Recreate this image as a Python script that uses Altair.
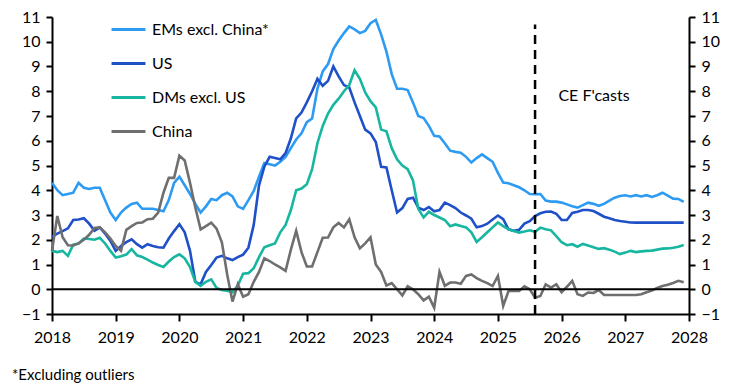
import altair as alt
import pandas as pd

start_year = 2018
series_names = ["EMs excl. China*", "US", "DMs excl. US", "China"]
colors = ["#2E9BF2", "#1F50C8", "#17B6A0", "#6F6F6F"]
year_ticks = list(range(2018, 2029))
y_ticks = list(range(-1, 12))
forecast_start = 2025 + 7 / 12
annotation = "CE F'casts"
annotation_x = [2025.95]
annotation_y = [7.8]
footnote = "*Excluding outliers"

ems = [4.3, 4.0, 3.8, 3.85, 3.9, 4.3, 4.1, 4.05, 4.1, 4.1, 3.6, 3.1,
       2.8, 3.1, 3.3, 3.45, 3.5, 3.25, 3.25, 3.25, 3.2, 3.15, 3.6, 4.3,
       4.55, 4.2, 3.85, 3.45, 3.1, 3.35, 3.65, 3.6, 3.8, 3.9, 3.75, 3.35,
       3.25, 3.6, 3.97, 4.55, 5.1, 5.05, 5.0, 5.15, 5.35, 5.7, 6.05, 6.3,
       6.75, 6.9, 8.1, 8.8, 9.1, 9.7, 10.05, 10.35, 10.62, 10.5, 10.35, 10.44,
       10.75, 10.88, 10.3, 9.6, 8.69, 8.1, 8.1, 8.05, 7.55, 7.0, 6.92, 6.6,
       6.2, 6.17, 5.9, 5.6, 5.55, 5.52, 5.35, 5.12, 5.3, 5.45, 5.3, 5.15,
       4.7, 4.31, 4.28, 4.2, 4.12, 4.0, 3.85, 3.84, 3.85, 3.58, 3.54, 3.54,
       3.5, 3.43, 3.35, 3.3, 3.4, 3.5, 3.45, 3.37, 3.45, 3.58, 3.7, 3.77,
       3.8, 3.75, 3.8, 3.75, 3.8, 3.73, 3.8, 3.9, 3.78, 3.66, 3.65, 3.53]

us = [2.13, 2.25, 2.35, 2.46, 2.8, 2.82, 2.87, 2.65, 2.36, 2.5, 2.25, 1.95,
      1.55, 1.75, 1.9, 2.02, 1.82, 1.68, 1.82, 1.75, 1.7, 1.68, 2.05, 2.35,
      2.63, 2.3, 1.55, 0.3, 0.2, 0.7, 0.98, 1.28, 1.35, 1.25, 1.18, 1.3,
      1.4, 1.68, 2.6, 4.2, 4.95, 5.35, 5.3, 5.25, 5.5, 6.1, 6.9, 7.14,
      7.55, 8.0, 8.5, 8.22, 8.42, 9.0, 8.6, 8.25, 8.15, 7.55, 7.0, 6.45,
      6.3, 5.95, 4.95, 4.92, 4.0, 3.1, 3.28, 3.65, 3.7, 3.3, 3.2, 3.32,
      3.15, 3.2, 3.5, 3.4, 3.28, 3.1, 2.98, 2.85, 2.5, 2.55, 2.65, 2.82,
      2.98, 2.83, 2.42, 2.36, 2.4, 2.65, 2.75, 2.96, 3.07, 3.13, 3.14, 3.05,
      2.8, 2.8, 3.08, 3.13, 3.2, 3.2, 3.16, 3.05, 2.93, 2.87, 2.8, 2.76,
      2.73, 2.7, 2.69, 2.69, 2.69, 2.69, 2.69, 2.69, 2.69, 2.69, 2.69, 2.69]

dms = [1.55, 1.5, 1.55, 1.35, 1.8, 1.85, 2.05, 2.03, 2.0, 2.08, 1.85, 1.55,
       1.28, 1.33, 1.4, 1.62, 1.37, 1.3, 1.2, 1.08, 0.98, 0.9, 1.12, 1.3,
       1.41, 1.25, 0.9, 0.3, 0.14, 0.3, 0.4, 0.05, -0.03, -0.06, -0.12, 0.15,
       0.63, 0.65, 0.85, 1.3, 1.7, 1.78, 1.85, 2.3, 2.6, 3.2, 4.0, 4.07,
       4.24, 4.85, 5.9, 6.6, 7.1, 7.45, 7.7, 8.0, 8.25, 8.85, 8.5, 7.95,
       7.6, 7.35, 6.45, 6.38, 5.7, 5.25, 5.0, 4.85, 4.4, 3.25, 2.9, 3.13,
       3.0, 2.9, 2.8, 2.55, 2.62, 2.56, 2.5, 2.3, 1.91, 2.1, 2.3, 2.5,
       2.7, 2.55, 2.42, 2.35, 2.29, 2.33, 2.38, 2.32, 2.49, 2.42, 2.38, 2.15,
       1.9, 1.78, 1.82, 1.72, 1.83, 1.77, 1.7, 1.63, 1.66, 1.6, 1.52, 1.42,
       1.48, 1.55, 1.5, 1.53, 1.55, 1.56, 1.6, 1.64, 1.65, 1.68, 1.72, 1.79]

china = [1.55, 2.96, 2.1, 1.78, 1.77, 1.85, 2.0, 2.2, 2.48, 2.5, 2.3, 2.05,
         1.75, 1.55, 2.4, 2.55, 2.68, 2.7, 2.83, 2.85, 3.1, 3.9, 4.5, 4.5,
         5.4, 5.2, 4.3, 3.3, 2.42, 2.55, 2.69, 2.45, 1.9, 0.6, -0.5, 0.2,
         -0.3, -0.2, 0.3, 0.7, 1.25, 1.14, 1.0, 0.88, 0.74, 1.6, 2.36, 1.5,
         0.92, 0.92, 1.5, 2.08, 2.09, 2.5, 2.68, 2.5, 2.83, 2.1, 1.65, 1.85,
         2.1, 1.0, 0.7, 0.15, 0.25, 0.0, -0.25, 0.12, 0.0, -0.2, -0.45, -0.3,
         -0.75, 0.7, 0.14, 0.27, 0.27, 0.22, 0.54, 0.6, 0.45, 0.34, 0.25, 0.13,
         0.54, -0.67, -0.07, -0.07, -0.07, 0.12, 0.0, -0.34, -0.27, 0.2, 0.07, 0.2,
         -0.12, 0.1, 0.34, -0.2, -0.27, -0.13, -0.15, -0.03, -0.23, -0.23, -0.23, -0.23,
         -0.23, -0.23, -0.23, -0.2, -0.12, -0.05, 0.05, 0.13, 0.18, 0.25, 0.34, 0.28]

FONT = "Lato"

rows = []
for name, vals in zip(series_names, [ems, us, dms, china]):
    for i, v in enumerate(vals):
        rows.append({"t": start_year + i / 12, "v": v, "series": name})
df = pd.DataFrame(rows)

x_scale = alt.Scale(domain=[2018, 2028], nice=False, zero=False)
y_scale = alt.Scale(domain=[-1, 11], nice=False, zero=False)

x_axis = alt.Axis(values=year_ticks, format="d", title=None,
                  tickSize=7, labelPadding=8, labelFlush=False)

lines = alt.Chart(df).mark_line(strokeWidth=2.6).encode(
    x=alt.X("t:Q", scale=x_scale, axis=x_axis),
    y=alt.Y("v:Q", scale=y_scale,
            axis=alt.Axis(values=y_ticks, orient="left", title=None,
                          tickSize=6, labelPadding=6)),
    color=alt.Color("series:N",
                    scale=alt.Scale(domain=series_names, range=colors),
                    legend=alt.Legend(orient="none", legendX=58, legendY=-6,
                                      title=None, symbolType="stroke",
                                      symbolSize=1150, symbolStrokeWidth=3,
                                      labelFontSize=16, labelFont=FONT,
                                      labelColor="black", labelOffset=5,
                                      rowPadding=7, padding=0)),
    detail="series:N",
)

zero = alt.Chart(pd.DataFrame({"v": [0]})).mark_rule(
    color="black", strokeWidth=2).encode(
    y=alt.Y("v:Q", scale=y_scale,
            axis=alt.Axis(values=y_ticks, orient="right", title=None,
                          tickSize=6, labelPadding=6)))

fc = alt.Chart(pd.DataFrame({"t": [forecast_start], "y1": [-1], "y2": [10.7]})).mark_rule(
    color="black", strokeWidth=2.5, strokeDash=[9, 6]).encode(
    x=alt.X("t:Q", scale=x_scale, axis=x_axis),
    y=alt.Y("y1:Q", scale=y_scale, axis=None),
    y2="y2:Q")

txt = alt.Chart(pd.DataFrame({"t": annotation_x, "v": annotation_y,
                              "label": [annotation]})).mark_text(
    align="left", baseline="middle", fontSize=16, font=FONT, color="black").encode(
    x=alt.X("t:Q", scale=x_scale, axis=x_axis),
    y=alt.Y("v:Q", scale=y_scale, axis=None),
    text="label:N")

chart = alt.layer(lines, zero, fc, txt).resolve_axis(y="independent").properties(
    width=637, height=297,
    title=alt.TitleParams(footnote, orient="bottom", anchor="start", frame="group",
                          dx=-40, offset=23, fontSize=15, font=FONT,
                          fontWeight="normal", color="black"),
    autosize=alt.AutoSizeParams(type="none"),
    padding={"left": 44, "top": 9, "right": 46, "bottom": 70},
).configure_axis(
    domainColor="black", domainWidth=2, tickColor="black", tickWidth=2,
    labelFontSize=16, labelFont=FONT, labelColor="black", grid=False,
).configure_view(stroke=None)

chart.save("out.html", embed_options={"renderer": "svg", "actions": False})
